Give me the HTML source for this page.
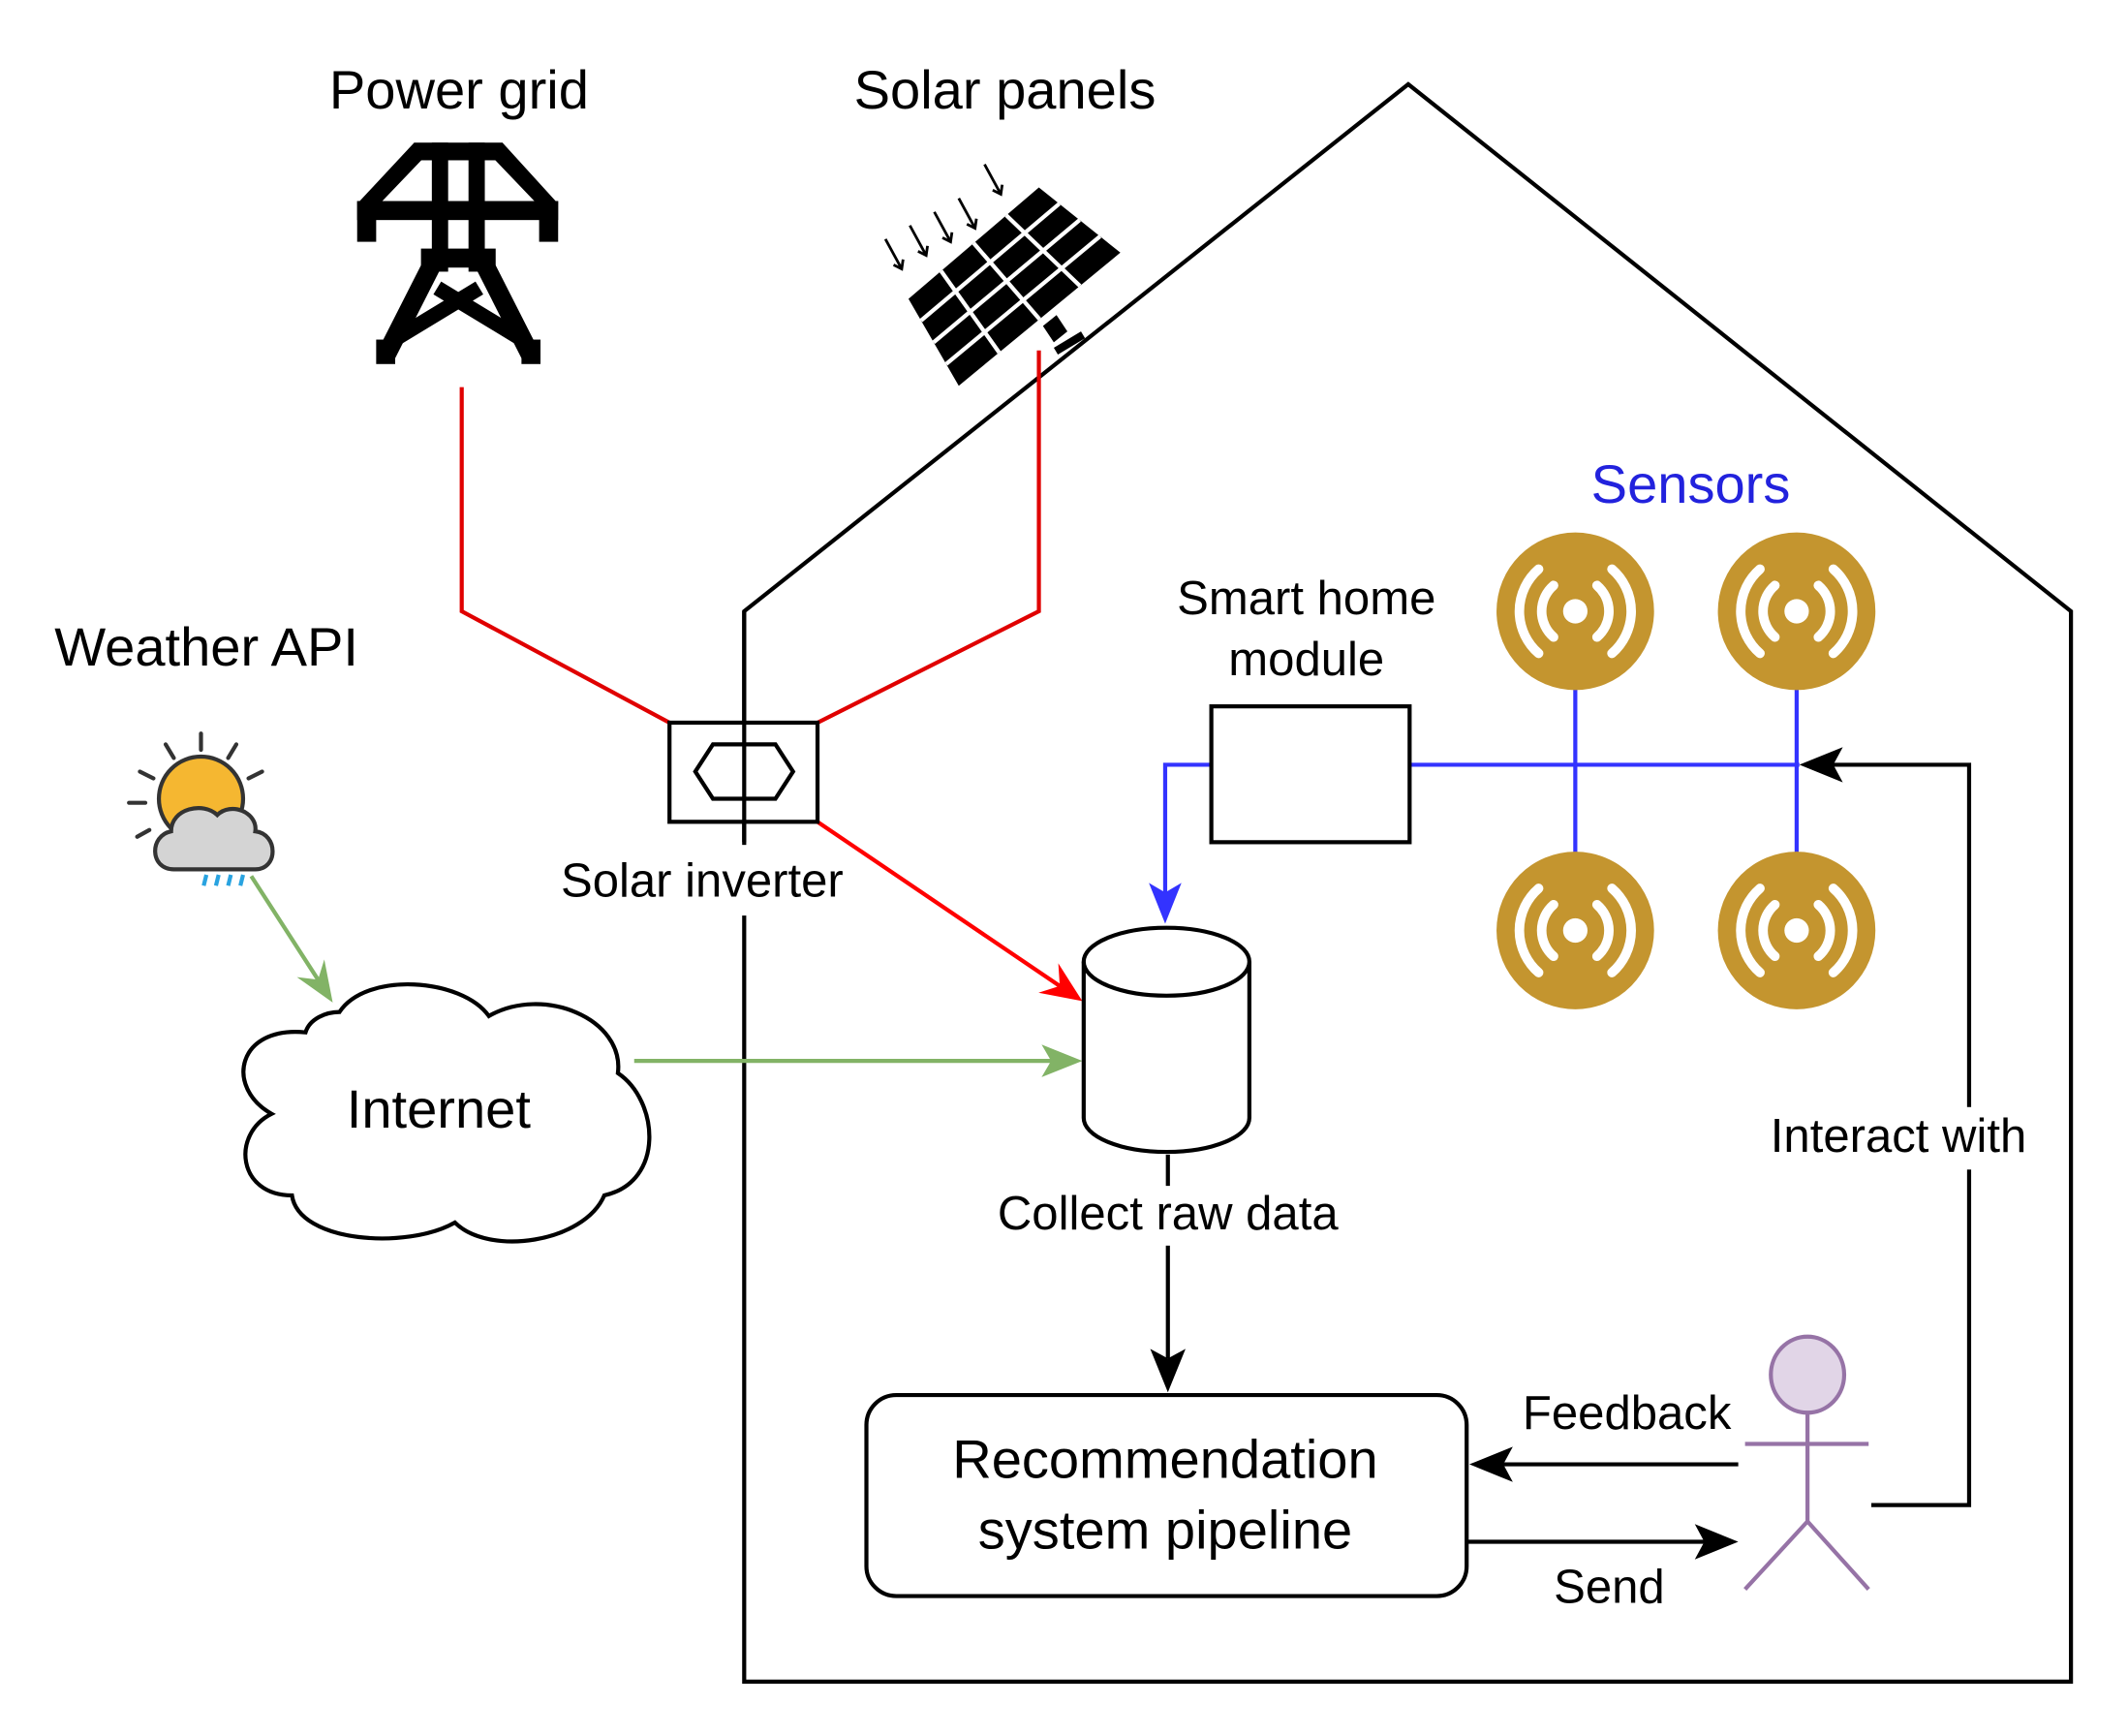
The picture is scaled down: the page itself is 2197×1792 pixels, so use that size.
<!DOCTYPE html>
<html><head><meta charset="utf-8"><style>
html,body{margin:0;padding:0;background:#fff;}
svg{display:block;}
text{font-family:"Liberation Sans",Arial,sans-serif;}
</style></head><body>
<svg width="2197" height="1792" viewBox="0 0 1567 1278" preserveAspectRatio="none" xmlns="http://www.w3.org/2000/svg">
<rect width="1567" height="1278" fill="#fff"/>

<!-- House -->
<path d="M548,1238 L548,450 L1037,62 L1525,450 L1525,1238 Z" fill="none" stroke="#000" stroke-width="3"/>

<!-- Titles -->
<text x="338" y="80" font-size="40" text-anchor="middle">Power grid</text>
<text x="740" y="80" font-size="40" text-anchor="middle">Solar panels</text>
<text x="152" y="490" font-size="40" text-anchor="middle">Weather API</text>

<!-- Tower -->
<g fill="#000">
<rect x="305" y="105" width="65" height="13"/>
<polygon points="305,105 316,112 272,158 263,150"/>
<polygon points="370,105 359,112 403,158 411,150"/>
<rect x="263" y="148" width="148" height="14"/>
<rect x="263" y="148" width="14" height="30"/>
<rect x="397" y="148" width="14" height="30"/>
<rect x="318" y="105" width="12" height="95"/>
<rect x="345" y="105" width="12" height="95"/>
<rect x="310" y="183" width="55" height="14"/>
<rect x="277" y="250" width="14" height="18"/>
<rect x="384" y="250" width="14" height="18"/>
</g>
<g stroke="#000" stroke-width="14" fill="none">
<line x1="318" y1="195" x2="284" y2="262"/>
<line x1="357" y1="195" x2="391" y2="262"/>
</g>
<g stroke="#000" stroke-width="11" fill="none">
<line x1="322" y1="212" x2="388" y2="252"/>
<line x1="353" y1="212" x2="287" y2="252"/>
</g>

<!-- Solar panel -->
<polygon points="765,138 825,186 706,284 669,220" fill="#000"/>
<g stroke="#fff" stroke-width="3">
<line x1="693" y1="199.5" x2="735.75" y2="259.5"/>
<line x1="717" y1="179" x2="765.5" y2="235"/>
<line x1="741" y1="158.5" x2="795.25" y2="210.5"/>
<line x1="780" y1="150" x2="678.25" y2="236"/>
<line x1="795" y1="162" x2="687.5" y2="252"/>
<line x1="810" y1="174" x2="696.75" y2="268"/>
</g>
<polygon points="768,240 778,232 786,244 776,252" fill="#000"/>
<polygon points="776,256 796,244 799,249 779,261" fill="#000"/>
<g stroke="#000" stroke-width="2" fill="none">
<line x1="652" y1="176" x2="664" y2="198"/><polyline points="658,195 664,198 665,191"/>
<line x1="670" y1="166" x2="682" y2="188"/><polyline points="676,185 682,188 683,181"/>
<line x1="688" y1="156" x2="700" y2="178"/><polyline points="694,175 700,178 701,171"/>
<line x1="706" y1="146" x2="718" y2="168"/><polyline points="712,165 718,168 719,161"/>
<line x1="725" y1="121" x2="737" y2="143"/><polyline points="731,140 737,143 738,136"/>
</g>

<!-- Red lines -->
<polyline points="340,285 340,450 493,532" fill="none" stroke="#e00000" stroke-width="3"/>
<polyline points="765,258 765,450 602,532" fill="none" stroke="#e00000" stroke-width="3"/>
<line x1="602" y1="605" x2="785" y2="729" stroke="#ff0000" stroke-width="3"/>
<polygon points="797,737 779.3,709.2 780.4,725.8 764.7,730.8" fill="#ff0000"/>

<!-- Inverter -->
<rect x="493" y="532" width="109" height="73" fill="#fff" stroke="#000" stroke-width="3"/>
<polygon points="512,568 525,548 571,548 584,568 571,588 525,588" fill="none" stroke="#000" stroke-width="3"/>
<line x1="548" y1="450" x2="548" y2="620" stroke="#000" stroke-width="3"/>
<rect x="538" y="622" width="20" height="52" fill="#fff"/>
<text x="517" y="660" font-size="35" text-anchor="middle">Solar inverter</text>

<!-- Weather icon -->
<g stroke="#333" stroke-width="3" stroke-linecap="round">
<line x1="148" y1="540" x2="148" y2="552"/>
<line x1="122" y1="548" x2="128" y2="558"/>
<line x1="174" y1="548" x2="168" y2="558"/>
<line x1="103" y1="568" x2="113" y2="573"/>
<line x1="193" y1="568" x2="183" y2="573"/>
<line x1="95" y1="591" x2="107" y2="591"/>
<line x1="101" y1="616" x2="110" y2="611"/>
</g>
<circle cx="148" cy="588" r="31" fill="#f5b731" stroke="#333" stroke-width="3"/>
<path d="M128,640 C110,640 110,615 126,612 C126,595 150,590 160,600 C170,590 190,598 188,612 C205,614 205,640 188,640 Z" fill="#d4d4d4" stroke="#333" stroke-width="3"/>
<g stroke="#29a3e0" stroke-width="3">
<line x1="152" y1="644" x2="150" y2="652"/>
<line x1="161" y1="644" x2="159" y2="652"/>
<line x1="170" y1="644" x2="168" y2="652"/>
<line x1="179" y1="644" x2="177" y2="652"/>
</g>

<!-- Green arrows -->
<line x1="185" y1="645" x2="236" y2="724" stroke="#82b366" stroke-width="3"/>
<polygon points="245,738 218.6,719.3 234.2,721.2 238.8,706.3" fill="#82b366"/>
<line x1="467" y1="781" x2="778" y2="781" stroke="#82b366" stroke-width="3"/>
<polygon points="797,781 767,769 774,781 767,793" fill="#82b366"/>

<!-- Internet cloud -->
<path d="M250,745 C270,715 340,720 360,748 C400,725 460,750 455,790 C485,810 490,870 445,880 C430,915 360,925 335,900 C300,920 220,915 215,880 C175,880 170,835 200,820 C165,800 175,755 225,760 C228,750 240,745 250,745 Z" fill="#fff" stroke="#000" stroke-width="3"/>
<text x="323" y="830" font-size="40" text-anchor="middle">Internet</text>

<!-- Cylinder -->
<path d="M798,708 L798,823 A61,25 0 0 0 920,823 L920,708" fill="#fff" stroke="#000" stroke-width="3"/>
<ellipse cx="859" cy="708" rx="61" ry="25" fill="#fff" stroke="#000" stroke-width="3"/>

<!-- Smart home module -->
<text x="962" y="452" font-size="35" text-anchor="middle">Smart home</text>
<text x="962" y="497" font-size="35" text-anchor="middle">module</text>
<polyline points="892,563 858,563 858,660" fill="none" stroke="#3333ff" stroke-width="3"/>
<polygon points="858,680 846,650 858,657 870,650" fill="#3333ff"/>
<line x1="1038" y1="563" x2="1325" y2="563" stroke="#3333ff" stroke-width="3"/>
<line x1="1160" y1="500" x2="1160" y2="640" stroke="#3333ff" stroke-width="3"/>
<line x1="1323" y1="500" x2="1323" y2="640" stroke="#3333ff" stroke-width="3"/>
<rect x="892" y="520" width="146" height="100" fill="#fff" stroke="#000" stroke-width="3"/>

<!-- Sensors -->
<text x="1245" y="370" font-size="40" text-anchor="middle" fill="#2222dd">Sensors</text>
<defs>
<g id="sens">
<circle r="58" fill="#c4952f"/>
<circle r="9" fill="#fff"/>
<g fill="none" stroke="#fff" stroke-width="7" stroke-linecap="round">
<path d="M-16,-19 A25,25 0 0 0 -16,19"/>
<path d="M16,-19 A25,25 0 0 1 16,19"/>
<path d="M-27,-31 A41,41 0 0 0 -27,31"/>
<path d="M27,-31 A41,41 0 0 1 27,31"/>
</g>
</g>
</defs>
<use href="#sens" x="1160" y="450"/>
<use href="#sens" x="1323" y="450"/>
<use href="#sens" x="1160" y="685"/>
<use href="#sens" x="1323" y="685"/>

<!-- Interact with -->
<polyline points="1378,1108 1450,1108 1450,563 1345,563" fill="none" stroke="#000" stroke-width="3"/>
<polygon points="1325,563 1357,550 1350,563 1357,576" fill="#000"/>
<rect x="1295" y="815" width="210" height="46" fill="#fff"/>
<text x="1398" y="848" font-size="35" text-anchor="middle">Interact with</text>

<!-- Collect raw data -->
<line x1="860" y1="850" x2="860" y2="1000" stroke="#000" stroke-width="3"/>
<polygon points="860,1025 847,993 860,1000 873,993" fill="#000"/>
<rect x="720" y="873" width="280" height="44" fill="#fff"/>
<text x="860" y="905" font-size="35" text-anchor="middle">Collect raw data</text>

<!-- Recommendation box -->
<rect x="638" y="1027" width="442" height="148" rx="22" fill="#fff" stroke="#000" stroke-width="3"/>
<text x="858" y="1088" font-size="40" text-anchor="middle">Recommendation</text>
<text x="858" y="1140" font-size="40" text-anchor="middle">system pipeline</text>

<!-- Feedback / Send -->
<line x1="1280" y1="1078" x2="1100" y2="1078" stroke="#000" stroke-width="3"/>
<polygon points="1082,1078 1114,1065 1107,1078 1114,1091" fill="#000"/>
<text x="1198" y="1052" font-size="35" text-anchor="middle">Feedback</text>
<line x1="1080" y1="1135" x2="1262" y2="1135" stroke="#000" stroke-width="3"/>
<polygon points="1280,1135 1248,1122 1255,1135 1248,1148" fill="#000"/>
<text x="1185" y="1180" font-size="35" text-anchor="middle">Send</text>

<!-- Person -->
<g stroke="#9673a6" stroke-width="3" fill="none">
<line x1="1331" y1="1040" x2="1331" y2="1120"/>
<line x1="1285" y1="1063" x2="1376" y2="1063"/>
<polyline points="1285,1170 1331,1120 1376,1170"/>
</g>
<ellipse cx="1331" cy="1012" rx="27" ry="28" fill="#e1d5e7" stroke="#9673a6" stroke-width="3"/>
</svg>
</body></html>
